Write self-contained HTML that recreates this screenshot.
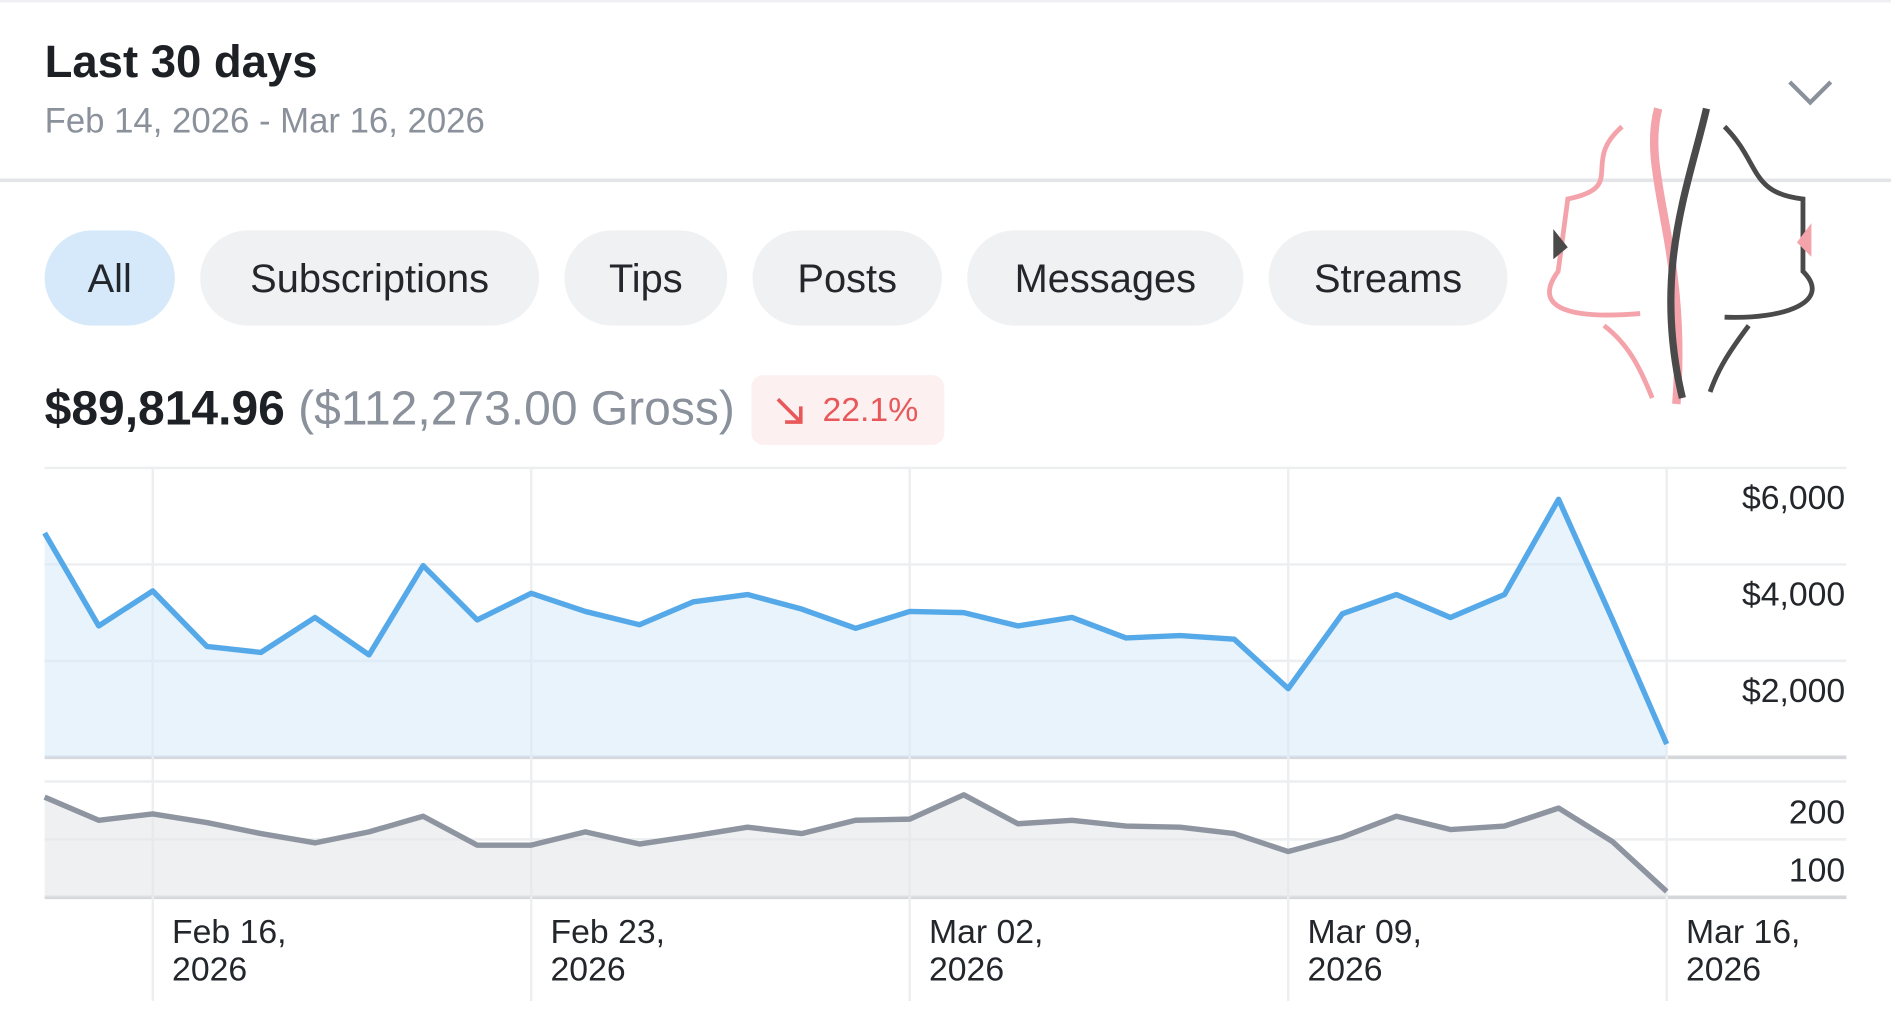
<!DOCTYPE html>
<html><head><meta charset="utf-8">
<style>
html,body{margin:0;padding:0;background:#fff;overflow:hidden}
#wrap{width:1568px;height:845px;transform:scale(1.206);transform-origin:0 0;position:relative;font-family:"Liberation Sans",sans-serif}
.t{position:absolute;white-space:nowrap}
.pill{position:absolute;top:191px;height:79px;border-radius:40px;background:#f0f1f3;color:#23262b;font-size:33px;line-height:79px;text-align:center}
</style></head><body>
<div id="wrap">
<div style="position:absolute;left:0;top:0;width:1568px;height:2px;background:#f0f0f2"></div>
<div class="t" style="left:37px;top:30px;font-size:37.7px;font-weight:bold;color:#1d2025">Last 30 days</div>
<div class="t" style="left:37px;top:85px;font-size:28.8px;color:#8a919b">Feb 14, 2026 - Mar 16, 2026</div>
<svg style="position:absolute;left:1480px;top:62px" width="44" height="28"><path d="M4 6 L21 23 L38 6" fill="none" stroke="#8a919b" stroke-width="3.5"/></svg>
<div style="position:absolute;left:0;top:148px;width:1568px;height:3px;background:#e4e5e8"></div>
<div class="pill" style="left:37px;width:108px;background:#d6e9fa">All</div>
<div class="pill" style="left:166px;width:281px">Subscriptions</div>
<div class="pill" style="left:468px;width:135px">Tips</div>
<div class="pill" style="left:624px;width:157px">Posts</div>
<div class="pill" style="left:802px;width:229px">Messages</div>
<div class="pill" style="left:1052px;width:198px">Streams</div>
<svg style="position:absolute;left:1270px;top:85px" width="250" height="255">
<path d="M105 5 C90 60 130 120 120 250" fill="none" stroke="#f4a3ab" stroke-width="7"/>
<path d="M145 5 C130 70 100 140 125 245" fill="none" stroke="#4a4a4a" stroke-width="6"/>
<path d="M75 20 C40 50 80 70 30 80 L22 140 C0 170 30 180 90 175" fill="none" stroke="#f4a3ab" stroke-width="4"/>
<path d="M160 20 C190 50 180 75 225 80 L225 140 C250 165 210 180 160 178" fill="none" stroke="#4a4a4a" stroke-width="4"/>
<path d="M60 185 C80 200 90 220 100 245" fill="none" stroke="#f4a3ab" stroke-width="4"/>
<path d="M180 185 C165 205 155 220 148 240" fill="none" stroke="#4a4a4a" stroke-width="4"/>
<path d="M18 105 l12 15 l-12 10 z" fill="#4a4a4a"/><path d="M232 100 l-12 16 l12 12 z" fill="#f4a3ab"/>
</svg>
<div class="t" style="left:37px;top:317px;font-size:39.8px;font-weight:bold;color:#1d2025">$89,814.96 <span style="font-weight:normal;color:#8a919b">($112,273.00 Gross)</span></div>
<div style="position:absolute;left:623px;top:311px;width:160px;height:58px;border-radius:10px;background:#fdf0f0">
<svg style="position:absolute;left:18px;top:16px" width="28" height="28"><path d="M4 4 L23 23 M10 23 L23 23 L23 10" fill="none" stroke="#e8585a" stroke-width="3"/></svg>
<div class="t" style="left:59px;top:13px;font-size:28px;color:#e8585a">22.1%</div></div>
<svg id="chart" style="position:absolute;left:0;top:0" width="1568" height="845"></svg>
</div>
<script>
const categories=["Feb 14","Feb 15","Feb 16","Feb 17","Feb 18","Feb 19","Feb 20","Feb 21","Feb 22","Feb 23","Feb 24","Feb 25","Feb 26","Feb 27","Feb 28","Mar 01","Mar 02","Mar 03","Mar 04","Mar 05","Mar 06","Mar 07","Mar 08","Mar 09","Mar 10","Mar 11","Mar 12","Mar 13","Mar 14","Mar 15","Mar 16"];
const earnings=[4650,2725,3450,2300,2175,2900,2125,3975,2850,3400,3025,2750,3225,3375,3075,2675,3025,3000,2725,2900,2475,2525,2450,1425,2975,3375,2900,3375,5350,2850,275];
const counts=[173,133,144,129,110,94,113,140,90,90,113,92,106,121,110,133,135,177,127,133,123,121,110,79,104,140,117,123,154,96,10];
const earnTicks=[6000,4000,2000];
const earnTickLabels=["$6,000","$4,000","$2,000"];
const countTicks=[200,100];
const countTickLabels=["200","100"];
const xTickIdx=[2,9,16,23,30];
const xTickLabels=[["Feb 16,","2026"],["Feb 23,","2026"],["Mar 02,","2026"],["Mar 09,","2026"],["Mar 16,","2026"]];

const svg=document.getElementById('chart');const NS='http://www.w3.org/2000/svg';
function mk(t,a,p){const e=document.createElementNS(NS,t);for(const k in a)e.setAttribute(k,a[k]);(p||svg).appendChild(e);return e;}
const X0=37,X1=1382;
const x=i=>X0+(X1-X0)*i/(categories.length-1);
const y1=v=>628-v/6000*240;
const y2=v=>744-v/200*96;
[6000,4000,2000,0].forEach(v=>{const l=mk('line',{x1:37,x2:1531,y1:y1(v),y2:y1(v),stroke:v===0?'#d5d7db':'#eceef0','stroke-width':v===0?3:2});});
[200,100,0].forEach(v=>{const l=mk('line',{x1:37,x2:1531,y1:y2(v),y2:y2(v),stroke:v===0?'#d5d7db':'#eceef0','stroke-width':v===0?3:2});});
xTickIdx.forEach(i=>{const l=mk('line',{x1:x(i),x2:x(i),y1:388,y2:830,stroke:'#eceef0','stroke-width':2});});
let d='M'+x(0)+' '+y1(0);earnings.forEach((v,i)=>d+=' L'+x(i)+' '+y1(v));d+=' L'+x(earnings.length-1)+' '+y1(0)+'Z';
let a=mk('path',{d:d,fill:'#d6e9fa','fill-opacity':0.55});
let ld='';earnings.forEach((v,i)=>ld+=(i?' L':'M')+x(i)+' '+y1(v));
let l=mk('path',{d:ld,fill:'none',stroke:'#56a9e8','stroke-width':4.5,'stroke-linejoin':'round'});
d='M'+x(0)+' '+y2(0);counts.forEach((v,i)=>d+=' L'+x(i)+' '+y2(v));d+=' L'+x(counts.length-1)+' '+y2(0)+'Z';
a=mk('path',{d:d,fill:'#e4e6ea','fill-opacity':0.6});
ld='';counts.forEach((v,i)=>ld+=(i?' L':'M')+x(i)+' '+y2(v));
l=mk('path',{d:ld,fill:'none',stroke:'#8e95a0','stroke-width':4.5,'stroke-linejoin':'round'});
earnTicks.forEach((v,i)=>{const t=mk('text',{x:1530,y:y1(v)+34,'text-anchor':'end','font-size':28,fill:'#23262b','font-family':'Liberation Sans, sans-serif'});t.textContent=earnTickLabels[i];});
countTicks.forEach((v,i)=>{const t=mk('text',{x:1530,y:y2(v)+35,'text-anchor':'end','font-size':28,fill:'#23262b','font-family':'Liberation Sans, sans-serif'});t.textContent=countTickLabels[i];});
xTickIdx.forEach((idx,i)=>{xTickLabels[i].forEach((s,k)=>{const t=mk('text',{x:x(idx)+16,y:782+k*31,'font-size':28,fill:'#23262b','font-family':'Liberation Sans, sans-serif'});t.textContent=s;});});
</script>
</body></html>
